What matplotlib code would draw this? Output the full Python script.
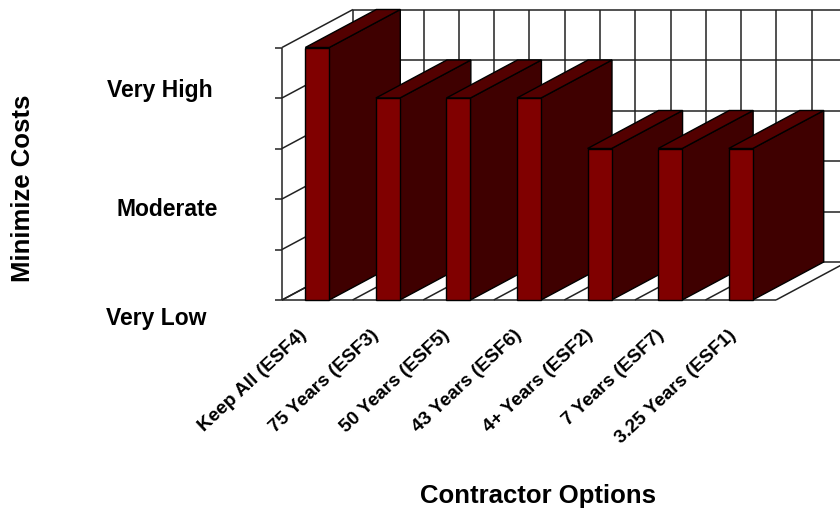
import numpy as np
import matplotlib
matplotlib.use('Agg')
import matplotlib.pyplot as plt
from matplotlib.patches import Polygon

plt.rcParams['font.family'] = ['Liberation Sans', 'DejaVu Sans']

categories = ['Keep All (ESF4)', '75 Years (ESF3)', '50 Years (ESF5)', '43 Years (ESF6)',
              '4+ Years (ESF2)', '7 Years (ESF7)', '3.25 Years (ESF1)']
values = [5, 4, 4, 4, 3, 3, 3]
levels = [0, 1, 2, 3, 4, 5]
wall_divisions = np.arange(0, 7.5, 0.5)
rating_labels = ['Very High', 'Moderate', 'Very Low']
rating_pixels = [(159.5, 90), (167, 209), (156, 318)]

W, H = 840, 515
# front plane of the fake 3d box, in pixels
left, right, bottom, top = 282, 776, 300, 47.5
depth_x = 71 / ((right - left) / 7)
depth_y = 38 / ((bottom - top) / 5)
bar_width = 24 / ((right - left) / 7)

fig = plt.figure(figsize=(W / 100, H / 100), dpi=100)
ax = fig.add_axes([left / W, 1 - bottom / H, (right - left) / W, (bottom - top) / H])
ax.set_xlim(0, 7)
ax.set_ylim(0, 5)
for s in ax.spines.values():
    s.set_visible(False)
ax.patch.set_visible(False)

line = dict(color='#222222', lw=1.1, clip_on=False, zorder=1, solid_capstyle='butt')

# back wall
for lv in levels:
    ax.plot([depth_x, 7 + depth_x], [lv + depth_y, lv + depth_y], **line)
for d in wall_divisions:
    ax.plot([d + depth_x, d + depth_x], [depth_y, 5 + depth_y], **line)
# left wall
for lv in levels:
    ax.plot([0, depth_x], [lv, lv + depth_y], **line)
ax.plot([0, 0], [0, 5], **line)
# floor
for i in range(8):
    ax.plot([i, i + depth_x], [0, depth_y], **line)
ax.plot([0, 7], [0, 0], **line)

# bars, left to right so each front covers the previous side
for i, v in enumerate(values):
    x0 = i + 0.5 - bar_width / 2
    x1 = x0 + bar_width
    edge = dict(edgecolor='black', lw=1.0, clip_on=False, zorder=2 + i, joinstyle='miter')
    ax.add_patch(Polygon([(x1, 0), (x1 + depth_x, depth_y), (x1 + depth_x, v + depth_y), (x1, v)],
                         facecolor='#3f0000', **edge))
    ax.add_patch(Polygon([(x0, v), (x1, v), (x1 + depth_x, v + depth_y), (x0 + depth_x, v + depth_y)],
                         facecolor='#530000', **edge))
    ax.add_patch(Polygon([(x0, 0), (x1, 0), (x1, v), (x0, v)], facecolor='#800000', **edge))

ax.set_yticks(levels)
ax.set_yticklabels([])
ax.tick_params(axis='y', length=5, width=1.1, color='#222222')
ax.set_xticks(np.arange(7) + 0.5)
ax.set_xticklabels([])
ax.tick_params(axis='x', length=0)

# labels drift a little to the right in the original
for i, c in enumerate(categories):
    ax.annotate(c, (i + 0.5, 0), xytext=(-13.5 + 0.7 * i, -19), textcoords='offset points', rotation=43,
                ha='right', va='top', rotation_mode='anchor', fontsize=13.7, fontweight='bold')

for t, (px, py) in zip(rating_labels, rating_pixels):
    fig.text(px / W, 1 - py / H, t, ha='center', va='center', fontsize=16.5, fontweight='bold')

fig.text(538 / W, 1 - 496 / H, 'Contractor Options', ha='center', va='center', fontsize=18.5, fontweight='bold')
fig.text(23 / W, 1 - 188 / H, 'Minimize Costs', rotation=90, ha='center', va='center', fontsize=18.5, fontweight='bold')

fig.savefig('out.png', dpi=100)
